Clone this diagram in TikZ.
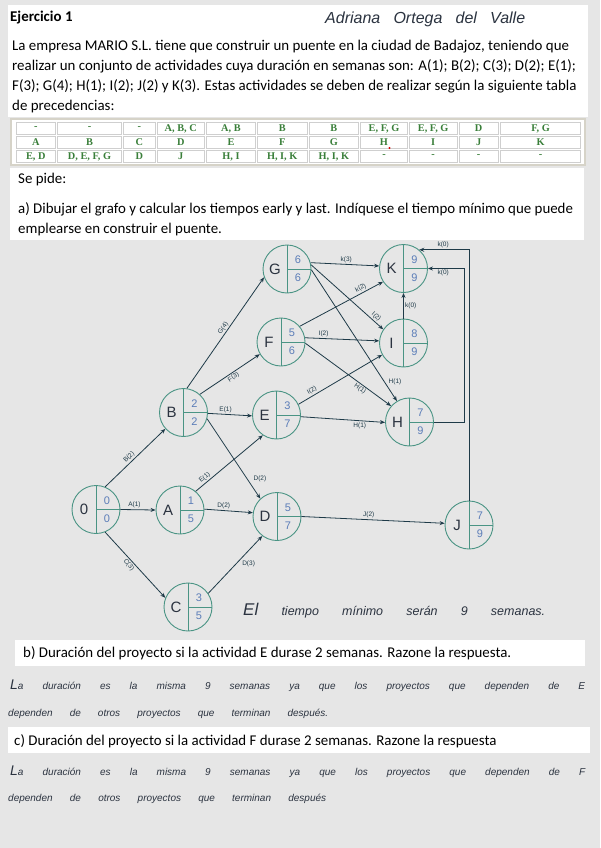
\documentclass[tikz,border=0pt]{standalone}
\usepackage{fontspec}
\setmainfont{Carlito}
\newfontfamily\handfont{Liberation Sans}
\newfontfamily\tabserif{Liberation Serif}
\usetikzlibrary{arrows.meta}
\definecolor{bggray}{HTML}{E6E6E6}
\definecolor{nodeteal}{HTML}{4A9484}
\definecolor{edgecol}{HTML}{1E3A48}
\definecolor{numblue}{HTML}{5B7DB8}
\definecolor{tabgreen}{HTML}{3A7F3A}
\definecolor{tabframe}{HTML}{D6D3C8}
\definecolor{cellline}{HTML}{CFCFCF}
\definecolor{inkcol}{HTML}{2B3340}
\tikzset{
  evt/.style={circle, draw=nodeteal, line width=0.9pt, minimum size=48pt, inner sep=0pt},
  inner/.style={draw=nodeteal, line width=0.9pt},
  lettr/.style={font=\handfont\fontsize{15}{15}\selectfont, text=inkcol, inner sep=0pt},
  numtxt/.style={font=\handfont\fontsize{11}{11}\selectfont, text=numblue, inner sep=0pt},
  conn/.style={draw=edgecol, line width=0.8pt, -{Stealth[length=5pt,width=4pt]}},
  lbl/.style={font=\handfont\fontsize{6.5}{7}\selectfont, text=edgecol, inner sep=1.2pt},
  body/.style={anchor=base west, inner sep=0pt, font=\fontsize{14.9}{17}\selectfont, text=black},
  hw/.style={anchor=base west, inner sep=0pt, font=\handfont\itshape\fontsize{10}{12}\selectfont, text=inkcol},
  tabtxt/.style={font=\tabserif\bfseries\fontsize{10.3}{10.5}\selectfont, text=tabgreen, inner sep=0pt},
}
\newcommand{\evnode}[6]{%
  \node[evt] (#1) at (#2,#3) {};
  \draw[inner] (#1.north) -- (#1.south) (#1.center) -- (#1.east);
  \node[lettr] (#1l) at ([xshift=-12pt]#1.center) {#4};
  \node[numtxt] (#1e) at ([xshift=11pt,yshift=9pt]#1.center) {#5};
  \node[numtxt] (#1f) at ([xshift=11pt,yshift=-9pt]#1.center) {#6};
}
\begin{document}
\begin{tikzpicture}[x=1pt,y=-1pt]
\fill[bggray] (0,0) rectangle (600,848);
\path[use as bounding box] (0,0) rectangle (600,848);
% white panels
\fill[white] (8,5) rectangle (588,117);
\fill[white] (10,168) rectangle (584,240);
\fill[white] (15,640) rectangle (585,666);
\fill[white] (8,727) rectangle (590,753);
% header and statement
\node[body, font=\bfseries\fontsize{14.9}{17}\selectfont] (title) at (10,22) {Ejercicio 1};
\node[hw, font=\handfont\itshape\fontsize{16}{17}\selectfont] (author) at (325,24) {\makebox[200pt][s]{Adriana Ortega del Valle}};
\node[body] (p1) at (12,51) {La empresa MARIO S.L. tiene que construir un puente en la ciudad de Badajoz, teniendo que};
\node[body] (p2) at (12,71) {realizar un conjunto de actividades cuya duración en semanas son: A(1); B(2); C(3); D(2); E(1);};
\node[body] (p3) at (12,91) {F(3); G(4); H(1); I(2); J(2) y K(3). Estas actividades se deben de realizar según la siguiente tabla};
\node[body] (p4) at (12,111) {de precedencias:};
% table
\fill[tabframe] (10,118) rectangle (586,166);
\fill[white] (12,120) rectangle (584,164);
\foreach \xa/\xb/\ra/\rb/\rc [count=\i] in {
  15/56.6/-/A/{E, D},
  56.6/122.5/-/B/{D, E, F, G},
  122.5/156/-/C/D,
  156/205.5/{A, B, C}/D/J,
  205.5/256.4/{A, B}/E/{H, I},
  256.4/308/B/F/{H, I, K},
  308/359.7/B/G/{H, I, K},
  359.7/408.3/{E, F, G}/H/-,
  408.3/458/{E, F, G}/I/-,
  458/499.4/D/J/-,
  499.4/581.7/{F, G}/K/-}{
  \draw[cellline, fill=white, line width=0.6pt] (\xa+1,122) rectangle (\xb-1,134);
  \draw[cellline, fill=white, line width=0.6pt] (\xa+1,136) rectangle (\xb-1,148);
  \draw[cellline, fill=white, line width=0.6pt] (\xa+1,150) rectangle (\xb-1,162);
  \node[tabtxt] (ta\i) at ({(\xa+\xb)/2},128.5) {\ra};
  \node[tabtxt] (tb\i) at ({(\xa+\xb)/2},142.5) {\rb};
  \node[tabtxt] (tc\i) at ({(\xa+\xb)/2},156.5) {\rc};
}
\fill[red!85!black] (389.5,148) circle (1.2pt);
% se pide
\node[body] (sp) at (18,183) {Se pide:};
\node[body] (qa1) at (18,213) {a) Dibujar el grafo y calcular los tiempos early y last. Indíquese el tiempo mínimo que puede};
\node[body] (qa2) at (18,233) {emplearse en construir el puente.};
% graph nodes
\evnode{n0}{96}{509.5}{0}{0}{0}
\evnode{B}{183.5}{412.5}{B}{2}{2}
\evnode{A}{180}{510}{A}{1}{5}
\evnode{C}{188}{607}{C}{3}{5}
\evnode{D}{277}{516.5}{D}{5}{7}
\evnode{E}{276.5}{415}{E}{3}{7}
\evnode{F}{281}{342}{F}{5}{6}
\evnode{G}{287}{269}{G}{6}{6}
\evnode{K}{403.5}{268.5}{K}{9}{9}
\evnode{I}{403.5}{343}{I}{8}{9}
\evnode{H}{409.5}{422}{H}{7}{9}
\evnode{J}{469}{525}{J}{7}{9}
% edges
\draw[conn] (n0.68) -- node[lbl, above, sloped, pos=0.45] (l1) {B(2)} (B.222);
\draw[conn] (n0.east) -- node[lbl, above, pos=0.4] (l2) {A(1)} (A.west);
\draw[conn] (n0.292) -- node[lbl, below, sloped, pos=0.45] (l3) {C(3)} (C.158);
\draw[conn] (B.82) -- node[lbl, above, sloped, pos=0.52] (l4) {G(4)} (G.200);
\draw[conn] (B.48) -- node[lbl, below, sloped, pos=0.52] (l5) {F(3)} (F.210);
\draw[conn] (B.358) -- node[lbl, above, pos=0.4] (l6) {E(1)} (E.182);
\draw[conn] (B.345) -- node[lbl, right=5pt, pos=0.75] (l7) {D(2)} (D.133);
\draw[conn] (A.50) -- node[lbl, above, sloped, pos=0.18] (l8) {E(1)} (E.236);
\draw[conn] (A.2) -- node[lbl, above, pos=0.4] (l9) {D(2)} (D.171);
\draw[conn] (C.34) -- node[lbl, below right, pos=0.6] (l10) {D(3)} (D.233);
\draw[conn] (D.east) -- node[lbl, above, pos=0.47] (l11) {J(2)} (J.176);
\draw[conn] (G.15) -- node[lbl, above, pos=0.52] (l12) {k(3)} (K.174);
\draw[conn] (G.10) -- node[lbl, above, sloped, pos=0.86] (l13) {I(2)} (I.146);
\draw[conn] (G.358) -- node[lbl, right=3pt, pos=0.85] (l14) {H(1)} (H.121);
\draw[conn] (F.40) -- node[lbl, above, sloped, pos=0.76] (l15) {k(2)} (K.213);
\draw[conn] (F.10) -- node[lbl, above, pos=0.25] (l16) {I(2)} (I.175);
\draw[conn] (F.357) -- node[lbl, below, sloped, pos=0.67] (l17) {H(1)} (H.139);
\draw[conn] (E.26) -- node[lbl, above, sloped, pos=0.19] (l18) {I(2)} (I.209);
\draw[conn] (E.356) -- node[lbl, below, pos=0.7] (l19) {H(1)} (H.181);
\draw[conn] (I.north) -- node[lbl, right] (l20) {k(0)} (K.south);
\draw[conn] (H.east) -- ++(30.5,0) |- node[lbl, below, pos=0.79] (l21) {k(0)} (K.east);
\draw[conn] (J.north) |- node[lbl, above, pos=0.76] (l22) {k(0)} (K.50);
% conclusion
\node[hw, font=\handfont\itshape\fontsize{12.5}{14}\selectfont] (concl) at (243,615) {\makebox[302pt][s]{{\fontsize{17}{17}\selectfont El} tiempo mínimo serán 9 semanas.}};
% part b
\node[body] (qb) at (23,657) {b) Duración del proyecto si la actividad E durase 2 semanas. Razone la respuesta.};
\node[hw] (ab1) at (10,689) {\makebox[575pt][s]{{\fontsize{14}{14}\selectfont L}a duración es la misma 9 semanas ya que los proyectos que dependen de E}};
\node[hw] (ab2) at (8,716) {\makebox[320pt][s]{dependen de otros proyectos que terminan después.}};
% part c
\node[body] (qc) at (14,745) {c) Duración del proyecto si la actividad F durase 2 semanas. Razone la respuesta};
\node[hw] (ac1) at (10,775) {\makebox[575pt][s]{{\fontsize{14}{14}\selectfont L}a duración es la misma 9 semanas ya que los proyectos que dependen de F}};
\node[hw] (ac2) at (8,801) {\makebox[318pt][s]{dependen de otros proyectos que terminan después}};
\end{tikzpicture}
\end{document}
